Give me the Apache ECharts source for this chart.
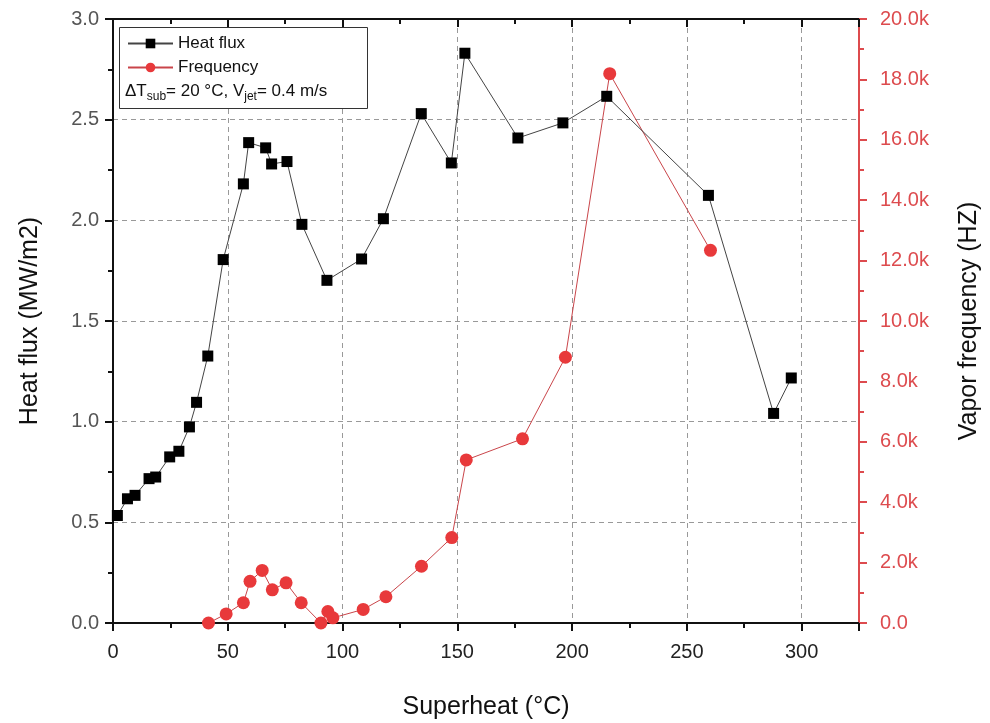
<!DOCTYPE html>
<html>
<head>
<meta charset="utf-8">
<script src="https://cdn.jsdelivr.net/npm/echarts@6/dist/echarts.min.js"></script>
<style>
html,body{margin:0;padding:0;background:#fff;}
#chart{width:990px;height:723px;}
</style>
</head>
<body>
<div id="chart"></div>
<script>
// Heat flux series (superheat °C, MW/m2)
var superheatQ = [1.9, 6.3, 9.6, 15.7, 18.6, 24.7, 28.7, 33.3, 36.4, 41.3, 48.0, 56.8, 59.1, 66.5, 69.1, 75.8, 82.3, 93.2, 108.3, 117.8, 134.3, 147.4, 153.3, 176.4, 196.0, 215.1, 259.4, 287.8, 295.5];
var heatFlux   = [0.534, 0.617, 0.634, 0.717, 0.725, 0.825, 0.853, 0.974, 1.096, 1.326, 1.805, 2.181, 2.386, 2.360, 2.280, 2.292, 1.980, 1.702, 1.808, 2.008, 2.530, 2.285, 2.830, 2.409, 2.484, 2.616, 2.124, 1.041, 1.217];
// Frequency series (superheat °C, Hz)
var superheatF = [41.6, 49.3, 56.8, 59.7, 65.0, 69.4, 75.4, 82.0, 90.6, 93.6, 95.8, 109.0, 118.9, 134.4, 147.6, 153.9, 178.4, 197.1, 216.4, 260.3];
var frequency  = [0, 300, 670, 1380, 1740, 1100, 1330, 670, 0, 380, 170, 450, 870, 1880, 2830, 5400, 6100, 8800, 18190, 12340];

var RED = '#e8393b';
var AXRED = '#dd4b4e';
var FONT = 'Arial, "Liberation Sans", sans-serif';
var chart = echarts.init(document.getElementById('chart'));
var qData = superheatQ.map(function(x, i){ return [x, heatFlux[i]]; });
var fData = superheatF.map(function(x, i){ return [x, frequency[i]]; });

chart.setOption({
  animation: false,
  backgroundColor: '#fff',
  textStyle: { fontFamily: FONT },
  grid: { left: 113, right: 131, top: 19, bottom: 100, containLabel: false, outerBoundsMode: 'none' },
  legend: {
    z: 20, orient: 'vertical', left: 122, top: 30, itemWidth: 45, itemHeight: 12, itemGap: 7,
    textStyle: { fontSize: 17, color: '#111', fontFamily: FONT },
    data: ['Heat flux', 'Frequency']
  },
  xAxis: [{
    type: 'value', min: 0, max: 325, interval: 50,
    name: 'Superheat (°C)', nameLocation: 'middle', nameGap: 72,
    nameTextStyle: { fontSize: 25, color: '#111' },
    axisLine: { show: true, onZero: false, lineStyle: { color: '#111', width: 2 } },
    axisTick: { show: true, length: 8, lineStyle: { color: '#111', width: 2 } },
    minorTick: { show: true, splitNumber: 2, length: 5, lineStyle: { color: '#111', width: 2 } },
    axisLabel: { fontSize: 20, color: '#222', margin: 19, showMaxLabel: false },
    splitLine: { show: true, lineStyle: { color: '#999', type: [5, 4], width: 1 } }
  }, {
    type: 'value', position: 'top', min: 0, max: 325, interval: 50,
    axisLine: { show: true, onZero: false, lineStyle: { color: '#111', width: 2 } },
    axisTick: { show: true, inside: true, length: 8, lineStyle: { color: '#111', width: 2 } },
    minorTick: { show: true, splitNumber: 2, length: 5, lineStyle: { color: '#111', width: 2 } },
    axisLabel: { show: false },
    splitLine: { show: false }
  }],
  yAxis: [{
    type: 'value', min: 0, max: 3, interval: 0.5, position: 'left',
    name: 'Heat flux (MW/m2)', nameLocation: 'middle', nameGap: 70,
    nameTextStyle: { fontSize: 25, color: '#111' },
    axisLine: { show: true, onZero: false, lineStyle: { color: '#111', width: 2 } },
    axisTick: { show: true, length: 8, lineStyle: { color: '#111', width: 2 } },
    minorTick: { show: true, splitNumber: 2, length: 5, lineStyle: { color: '#111', width: 2 } },
    axisLabel: { fontSize: 20, color: '#555', margin: 14, formatter: function(v){ return v.toFixed(1); } },
    splitLine: { show: true, lineStyle: { color: '#999', type: [5, 4], width: 1 } }
  }, {
    type: 'value', min: 0, max: 20000, interval: 2000, position: 'right',
    name: 'Vapor frequency (HZ)', nameLocation: 'middle', nameGap: 98,
    nameTextStyle: { fontSize: 25, color: '#111' },
    axisLine: { show: true, onZero: false, lineStyle: { color: AXRED, width: 2 } },
    axisTick: { show: true, length: 8, lineStyle: { color: AXRED, width: 2 } },
    minorTick: { show: true, splitNumber: 2, length: 5, lineStyle: { color: AXRED, width: 2 } },
    axisLabel: { fontSize: 20, color: AXRED, margin: 21, formatter: function(v){ return v === 0 ? '0.0' : (v/1000).toFixed(1) + 'k'; } },
    splitLine: { show: false }
  }],
  graphic: [{
    type: 'rect', left: 119, top: 27, z: 10,
    shape: { width: 248, height: 81 },
    style: { fill: '#fff', stroke: '#333', lineWidth: 1 }
  }, {
    type: 'text', left: 125, top: 83, z: 11,
    style: {
      text: 'ΔT{sub|sub}= 20 °C, V{sub|jet}= 0.4 m/s',
      font: '17px ' + FONT, fill: '#111',
      rich: { sub: { fontSize: 12, padding: [10, 0, 0, 0], fill: '#111' } }
    }
  }],
  series: [{
    name: 'Heat flux', type: 'line', xAxisIndex: 0, yAxisIndex: 0, data: qData,
    symbol: 'rect', symbolSize: 11, z: 3,
    itemStyle: { color: '#000' },
    lineStyle: { color: '#444', width: 1 }
  }, {
    name: 'Frequency', type: 'line', xAxisIndex: 0, yAxisIndex: 1, data: fData,
    symbol: 'circle', symbolSize: 13, z: 2,
    itemStyle: { color: RED },
    lineStyle: { color: '#c9454a', width: 1 }
  }]
});
</script>
</body>
</html>
